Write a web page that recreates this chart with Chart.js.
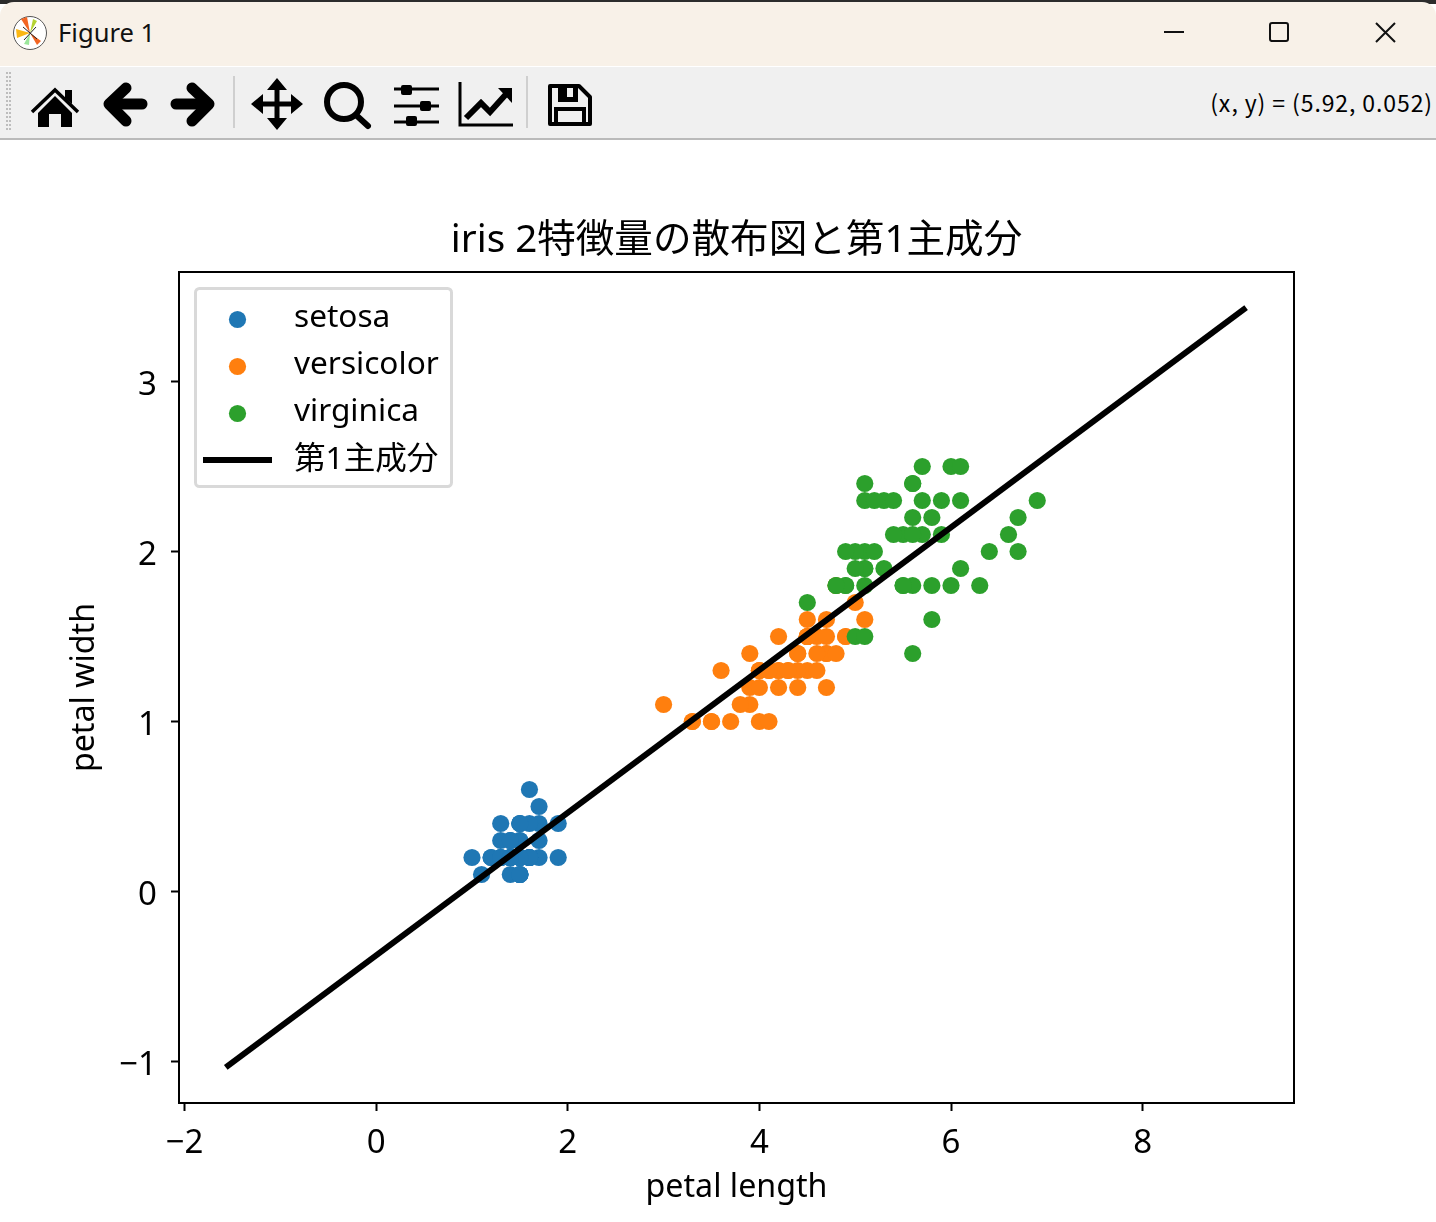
<!DOCTYPE html>
<html>
<head>
<meta charset="utf-8">
<title>Figure 1</title>
<script src="https://cdn.jsdelivr.net/npm/chart.js@4"></script>
<style>
  html, body { margin: 0; padding: 0; background: #fff; }
  body { position: relative; width: 1436px; height: 1222px; overflow: hidden; font-family: "Noto Sans", "Noto Sans CJK JP", sans-serif; }
  #topbar { position: absolute; left: 0; top: 0; width: 1436px; height: 4px; background: #2c2c2c; }
  #titlebar { position: absolute; left: 0; top: 2px; width: 1436px; height: 64px; background: #f8f1e8; border-radius: 14px 14px 0 0; }
  #wintitle { position: absolute; left: 58px; top: 15px; font-size: 25.6px; line-height: 32px; color: #111; }
  #toolbar { position: absolute; left: 0; top: 67px; width: 1436px; height: 71px; background: #f0f0f0; border-bottom: 2px solid #bababa; }
  #coords { position: absolute; right: 3px; top: 19px; font-family: "Noto Sans CJK JP", sans-serif; font-size: 23px; line-height: 32px; color: #000; white-space: nowrap; letter-spacing: 0.9px; }
  #icons { position: absolute; left: 0; top: 0; }
  #plot { position: absolute; left: 0; top: 140px; }
</style>
</head>
<body>
<div id="topbar"></div>
<div id="titlebar"><div id="wintitle">Figure 1</div></div>
<div id="toolbar"><div id="coords">(x, y) = (5.92, 0.052)</div></div>
<svg id="icons" width="1436" height="140" viewBox="0 0 1436 140">
  <!-- window buttons -->
  <path d="M1164 32h20" stroke="#111" stroke-width="2" fill="none"/>
  <rect x="1270" y="23" width="18" height="18" rx="2" stroke="#111" stroke-width="2" fill="none"/>
  <path d="M1376 23l19 19M1395 23l-19 19" stroke="#111" stroke-width="2" fill="none"/>
  <!-- matplotlib logo -->
  <circle cx="30" cy="33" r="16.5" fill="#fff" stroke="#555" stroke-width="1"/>
  <path d="M30 33L21 19L27 17Z" fill="#f26522"/>
  <path d="M30 33L33 19L37 21Z" fill="#b5d334"/>
  <path d="M30 33L17 38L16 29Z" fill="#fbb714"/>
  <path d="M30 33L29 45L24 44Z" fill="#9be69b"/>
  <path d="M30 33L41 41L37 45Z" fill="#f26522"/>
  <path d="M23 27L37 39M24 40L36 27" stroke="#222" stroke-width="1" fill="none"/>
  <!-- grip -->
  <path d="M7 72V132M10 72V132" stroke="#bdbdbd" stroke-width="2" stroke-dasharray="2 2" fill="none"/>
  <!-- separators -->
  <path d="M234 76V128M527 76V128" stroke="#cfcfcf" stroke-width="2" fill="none"/>
  <!-- home -->
  <path d="M32 112L55 90L78 112" stroke="#000" stroke-width="3.5" fill="none"/>
  <path d="M38 113L55 96L72 113V127H61V114H49V127H38Z" fill="#000"/>
  <path d="M65 90H72V104L65 98Z" fill="#000"/>
  <!-- back -->
  <path d="M126 88L109 104L126 121" stroke="#000" stroke-width="11" stroke-linecap="round" stroke-linejoin="round" fill="none"/>
  <path d="M112 104H142" stroke="#000" stroke-width="11" stroke-linecap="round" fill="none"/>
  <!-- forward -->
  <path d="M192 88L209 104L192 121" stroke="#000" stroke-width="11" stroke-linecap="round" stroke-linejoin="round" fill="none"/>
  <path d="M176 104H206" stroke="#000" stroke-width="11" stroke-linecap="round" fill="none"/>
  <!-- move -->
  <path d="M277 86V122M259 104H295" stroke="#000" stroke-width="5" fill="none"/>
  <path d="M277 78L287 90H267ZM277 130L287 118H267ZM251 104L263 94V114ZM303 104L291 94V114Z" fill="#000"/>
  <!-- zoom -->
  <circle cx="344" cy="102" r="17" stroke="#000" stroke-width="6" fill="none"/>
  <path d="M356 115L368 126" stroke="#000" stroke-width="6" stroke-linecap="round" fill="none"/>
  <!-- sliders -->
  <path d="M394 89H439M394 106H439M394 122H439" stroke="#000" stroke-width="3" fill="none"/>
  <rect x="401" y="85" width="11" height="10" rx="2" fill="#000"/>
  <rect x="420" y="101" width="11" height="10" rx="2" fill="#000"/>
  <rect x="406" y="116" width="11" height="10" rx="2" fill="#000"/>
  <!-- line chart -->
  <path d="M460 82V125H513" stroke="#000" stroke-width="3" fill="none"/>
  <path d="M466 118L481 103L490 112L508 92" stroke="#000" stroke-width="6" fill="none"/>
  <path d="M498 88H512V103Z" fill="#000"/>
  <!-- save -->
  <path d="M550 86H579L590 97V124H550Z" stroke="#000" stroke-width="4" stroke-linejoin="round" fill="none"/>
  <path d="M558 84H578V102H558Z" fill="#000"/>
  <rect x="567" y="88" width="6" height="9" fill="#f0f0f0"/>
  <path d="M556 124V109H584V124" stroke="#000" stroke-width="4" fill="none"/>
</svg>
<canvas id="plot" width="1436" height="1082"></canvas>

<script>
// iris petal measurements
const setosaLength = [1.4, 1.4, 1.3, 1.5, 1.4, 1.7, 1.4, 1.5, 1.4, 1.5, 1.5, 1.6, 1.4, 1.1, 1.2, 1.5, 1.3, 1.4, 1.7, 1.5, 1.7, 1.5, 1.0, 1.7, 1.9, 1.6, 1.6, 1.5, 1.4, 1.6, 1.6, 1.5, 1.5, 1.4, 1.5, 1.2, 1.3, 1.5, 1.3, 1.5, 1.3, 1.3, 1.6, 1.9, 1.4, 1.6, 1.4, 1.5, 1.4];
const setosaWidth = [0.2, 0.2, 0.2, 0.2, 0.2, 0.4, 0.3, 0.2, 0.2, 0.1, 0.2, 0.2, 0.1, 0.1, 0.2, 0.4, 0.4, 0.3, 0.3, 0.3, 0.2, 0.4, 0.2, 0.5, 0.2, 0.2, 0.4, 0.2, 0.2, 0.2, 0.2, 0.4, 0.1, 0.2, 0.1, 0.2, 0.2, 0.1, 0.2, 0.3, 0.3, 0.2, 0.6, 0.4, 0.3, 0.2, 0.2, 0.2, 0.2];
const versicolorLength = [4.7, 4.5, 4.9, 4.0, 4.6, 4.5, 4.7, 3.3, 4.6, 3.9, 3.5, 4.2, 4.0, 4.7, 3.6, 4.4, 4.5, 4.1, 4.5, 3.9, 4.8, 4.0, 4.9, 4.7, 4.3, 4.4, 4.8, 5.0, 4.5, 3.5, 3.8, 3.7, 3.9, 5.1, 4.5, 4.5, 4.7, 4.4, 4.1, 4.0, 4.4, 4.6, 4.0, 3.3, 4.2, 4.2, 4.2, 4.3, 3.0, 4.1];
const versicolorWidth = [1.4, 1.5, 1.5, 1.3, 1.5, 1.3, 1.6, 1.0, 1.3, 1.4, 1.0, 1.5, 1.0, 1.4, 1.3, 1.4, 1.5, 1.0, 1.5, 1.1, 1.8, 1.3, 1.5, 1.2, 1.3, 1.4, 1.4, 1.7, 1.5, 1.0, 1.1, 1.0, 1.2, 1.6, 1.5, 1.6, 1.5, 1.3, 1.3, 1.3, 1.2, 1.4, 1.2, 1.0, 1.3, 1.2, 1.3, 1.3, 1.1, 1.3];
const virginicaLength = [6.0, 5.1, 5.9, 5.6, 5.8, 6.6, 4.5, 6.3, 5.8, 6.1, 5.1, 5.3, 5.5, 5.0, 5.1, 5.3, 5.5, 6.7, 6.9, 5.0, 5.7, 4.9, 6.7, 4.9, 5.7, 6.0, 4.8, 4.9, 5.6, 5.8, 6.1, 6.4, 5.6, 5.1, 5.6, 6.1, 5.6, 5.5, 4.8, 5.4, 5.6, 5.1, 5.1, 5.9, 5.7, 5.2, 5.0, 5.2, 5.4, 5.1];
const virginicaWidth = [2.5, 1.9, 2.1, 1.8, 2.2, 2.1, 1.7, 1.8, 1.8, 2.5, 2.0, 1.9, 2.1, 2.0, 2.4, 2.3, 1.8, 2.2, 2.3, 1.5, 2.3, 2.0, 2.0, 1.8, 2.1, 1.8, 1.8, 1.8, 2.1, 1.6, 1.9, 2.0, 2.2, 1.5, 1.4, 2.3, 2.4, 1.8, 1.8, 2.1, 2.4, 2.3, 1.9, 2.3, 2.5, 2.3, 1.9, 2.0, 2.3, 1.8];
const pcLength = [-1.57, 9.08];
const pcWidth = [-1.035, 3.435];

const FONT = '"Noto Sans", "Noto Sans CJK JP", sans-serif';

function toPoints(xs, ys) {
  return xs.map((x, i) => ({ x: x, y: ys[i] }));
}

function tickLabel(value) {
  return String(value).replace("-", "\u2212");
}

// draws the top and right spines, then the legend box inside the axes
const frameAndLegend = {
  id: "frameAndLegend",
  afterDraw(chart) {
    const ctx = chart.ctx;
    const area = chart.chartArea;
    ctx.save();
    ctx.strokeStyle = "#000";
    ctx.lineWidth = 2;
    ctx.strokeRect(area.left, area.top, area.width, area.height);

    ctx.beginPath();
    ctx.roundRect(area.left + 16.5, area.top + 16.5, 256, 198, 4);
    ctx.fillStyle = "rgba(255,255,255,0.8)";
    ctx.fill();
    ctx.strokeStyle = "#d9d9d9";
    ctx.lineWidth = 3;
    ctx.stroke();

    ctx.font = "31.6px " + FONT;
    ctx.textBaseline = "middle";
    chart.data.datasets.forEach((ds, i) => {
      const y = area.top + 47.5 + i * 47;
      if (ds.showLine) {
        ctx.strokeStyle = ds.borderColor;
        ctx.lineWidth = ds.borderWidth;
        ctx.beginPath();
        ctx.moveTo(area.left + 24, y - 0.5);
        ctx.lineTo(area.left + 93, y - 0.5);
        ctx.stroke();
      } else {
        ctx.fillStyle = ds.backgroundColor;
        ctx.beginPath();
        ctx.arc(area.left + 58.5, y, ds.pointRadius, 0, Math.PI * 2);
        ctx.fill();
      }
      ctx.fillStyle = "#000";
      ctx.fillText(ds.label, area.left + 115, ds.showLine ? y - 1 : y - 2);
    });
    ctx.restore();
  },
};

new Chart(document.getElementById("plot").getContext("2d"), {
  type: "scatter",
  data: {
    datasets: [
      { label: "setosa", data: toPoints(setosaLength, setosaWidth), backgroundColor: "#1f77b4", pointRadius: 8.6, pointBorderWidth: 0, order: 3 },
      { label: "versicolor", data: toPoints(versicolorLength, versicolorWidth), backgroundColor: "#ff7f0e", pointRadius: 8.6, pointBorderWidth: 0, order: 2 },
      { label: "virginica", data: toPoints(virginicaLength, virginicaWidth), backgroundColor: "#2ca02c", pointRadius: 8.6, pointBorderWidth: 0, order: 1 },
      { label: "第1主成分", data: toPoints(pcLength, pcWidth), showLine: true, borderColor: "#000", borderWidth: 6, pointRadius: 0, order: 0 },
    ],
  },
  plugins: [frameAndLegend],
  options: {
    responsive: false,
    animation: false,
    layout: { padding: { left: 0, right: 142, top: 0, bottom: 0 } },
    plugins: {
      legend: { display: false },
      tooltip: { enabled: false },
      title: {
        display: true,
        text: "iris 2特徴量の散布図と第1主成分",
        fullSize: false,
        color: "#000",
        font: { family: FONT, size: 38.6, weight: "normal", lineHeight: 1 },
        padding: { top: 82, bottom: 11.4 },
      },
    },
    scales: {
      x: {
        type: "linear",
        min: -2.058,
        max: 9.58,
        border: { color: "#000", width: 2 },
        grid: { drawOnChartArea: false, drawTicks: true, tickLength: 8, tickColor: "#000", tickWidth: 2 },
        ticks: { stepSize: 2, includeBounds: false, maxRotation: 0, color: "#000", padding: 16, font: { family: FONT, size: 33, lineHeight: 1 }, callback: tickLabel },
        title: { display: true, text: "petal length", color: "#000", font: { family: FONT, size: 32.2, lineHeight: 1 }, padding: { top: 0, bottom: 18.5 } },
        afterFit(scale) { scale.height = 119; },
      },
      y: {
        type: "linear",
        min: -1.244,
        max: 3.644,
        border: { color: "#000", width: 2 },
        grid: { drawOnChartArea: false, drawTicks: true, tickLength: 8, tickColor: "#000", tickWidth: 2 },
        ticks: { stepSize: 1, includeBounds: false, color: "#000", padding: 14, labelOffset: 4, font: { family: FONT, size: 33, lineHeight: 1 }, callback: tickLabel },
        title: { display: true, text: "petal width", color: "#000", font: { family: FONT, size: 32.2, lineHeight: 1 }, padding: { top: 69, bottom: 0 } },
        afterFit(scale) { scale.width = 179; },
      },
    },
  },
});
</script>
</body>
</html>
